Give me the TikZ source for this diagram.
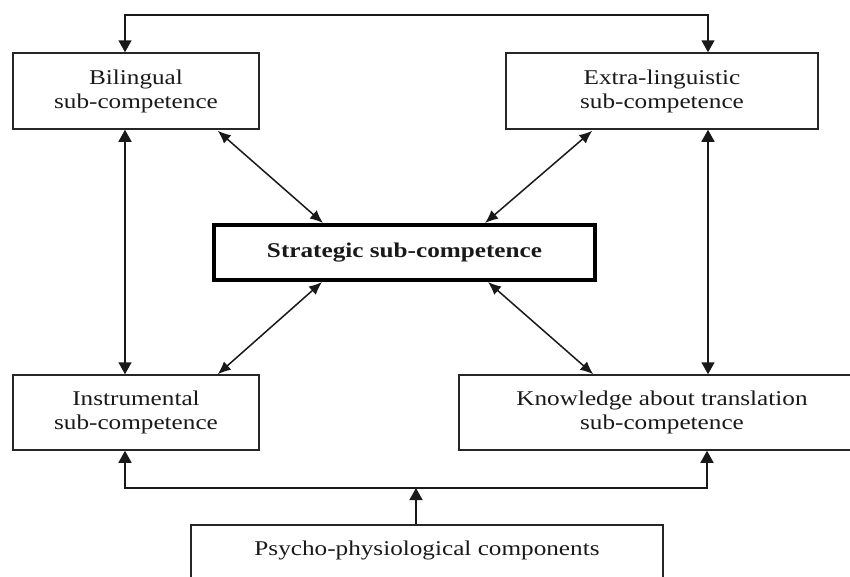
\documentclass[tikz,border=0pt]{standalone}
\usepackage{fontspec}
\setmainfont{Liberation Serif}[FakeStretch=1.2]
\usetikzlibrary{arrows.meta,calc}
\begin{document}
\begin{tikzpicture}[x=1pt,y=-1pt,
  box/.style={draw=black!85, line width=1.5pt, inner sep=0pt, align=center,
    font=\fontsize{21}{24}\selectfont, text=black!90},
  core/.style={box, draw=black, line width=4pt, font=\fontsize{21}{24}\selectfont\bfseries},
  link/.style={line width=1.5pt, draw=black!90},
  tri/.tip={Triangle[length=12pt,width=13pt]},
  dtip/.tip={Latex[length=13pt,width=11pt]}
]
\useasboundingbox (0,0) rectangle (850,576);
\clip (0,0) rectangle (850,576);

% sub-competence boxes
\node[box, minimum width=246pt, minimum height=76pt] (bil) at (136,91) {Bilingual\\sub-competence};
\node[box, minimum width=312pt, minimum height=76pt] (ext) at (662,91) {Extra-linguistic\\sub-competence};
\node[core, minimum width=381pt, minimum height=55pt] (str) at (404.5,252.5) {Strategic sub-competence};
\node[box, minimum width=246pt, minimum height=75pt] (ins) at (136,412.5) {Instrumental\\sub-competence};
\node[box, minimum width=406pt, minimum height=75pt] (kno) at (662,412.5) {Knowledge about translation\\sub-competence};
% the lowest box runs past the lower edge of the page
\node[box, minimum width=472pt, minimum height=66pt, text depth=18.6pt] (psy) at (427,558) {Psycho-physiological components};

% routing points of the outer loops
\coordinate (tl) at (125,15);
\coordinate (tr) at (708,15);
\coordinate (bl) at (125,488);
\coordinate (br) at (707,488);
\coordinate (bm) at (416,488);

% top connection between bilingual and extra-linguistic
\draw[link, tri-tri] (tl |- bil.north) -- (tl) -- (tr) -- (tr |- ext.north);

% vertical links
\draw[link, tri-tri] (tl |- bil.south) -- (tl |- ins.north);
\draw[link, tri-tri] (tr |- ext.south) -- (tr |- kno.north);

% bottom distribution from psycho-physiological components
\draw[link, tri-tri] (bl |- ins.south) -- (bl) -- (br) -- (br |- kno.south);
\draw[link, -tri] (bm |- psy.north) -- (bm);

% links to the strategic sub-competence
\draw[link, dtip-dtip] ([xshift=-42pt,yshift=-1pt]bil.south east) -- ([xshift=111pt]str.north west);
\draw[link, dtip-dtip] ([xshift=87pt,yshift=-1pt]ext.south west) -- ([xshift=-112pt]str.north east);
\draw[link, dtip-dtip] ([xshift=110pt]str.south west) -- ([xshift=-42pt]ins.north east);
\draw[link, dtip-dtip] ([xshift=-109pt]str.south east) -- ([xshift=135pt]kno.north west);
\end{tikzpicture}
\end{document}
